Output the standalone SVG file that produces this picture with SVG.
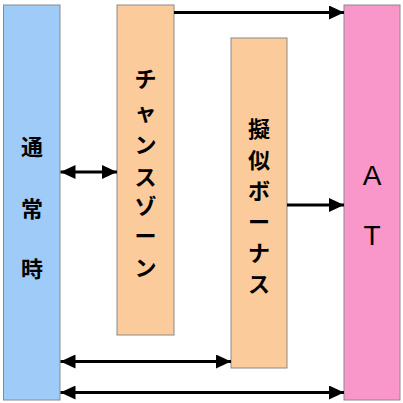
<svg xmlns="http://www.w3.org/2000/svg" width="403" height="403" viewBox="0 0 403 403">
<defs>
<marker id="ah" markerUnits="userSpaceOnUse" markerWidth="15" markerHeight="14" refX="15" refY="7" orient="auto-start-reverse">
<path d="M0,0 L15,7 L0,14 z" fill="#000"/>
</marker>
<style>
.box{stroke:#8a8a8a;stroke-width:1}
.blue{fill:#9ECBF7}
.orange{fill:#FCCB9B}
.pink{fill:#F996CA}
.jp{font-family:"Noto Sans CJK JP","Noto Sans",sans-serif;font-size:22px;fill:#000;text-anchor:middle;dominant-baseline:central}
.b{font-weight:bold}
.m{font-weight:bold}
.lat{font-family:"Liberation Sans",Arial,sans-serif;font-size:28px;fill:#000;text-anchor:middle}
.con{stroke:#000;stroke-width:3;fill:none}
</style>
</defs>
<rect width="403" height="403" fill="#fff"/>
<g id="normal">
<rect class="box blue" x="3.5" y="5" width="56.5" height="395"/>
<text class="jp b" x="32" y="145">通</text>
<text class="jp b" x="32" y="207">常</text>
<text class="jp b" x="32" y="267">時</text>
</g>
<g id="chance">
<rect class="box orange" x="117" y="5" width="57" height="330"/>
<text class="jp m" x="145.5" y="77">チ</text>
<text class="jp m" x="145.5" y="110">ャ</text>
<text class="jp m" x="145.5" y="143">ン</text>
<text class="jp m" x="145.5" y="175">ス</text>
<text class="jp m" x="145.5" y="204">ゾ</text>
<text class="jp m" x="145.5" y="234">ー</text>
<text class="jp m" x="145.5" y="266">ン</text>
</g>
<g id="bonus">
<rect class="box orange" x="231" y="38" width="56" height="330"/>
<text class="jp b" x="259" y="127">擬</text>
<text class="jp b" x="259" y="158">似</text>
<text class="jp b" x="259" y="189">ボ</text>
<text class="jp b" x="259" y="220">ー</text>
<text class="jp b" x="259" y="251">ナ</text>
<text class="jp b" x="259" y="282">ス</text>
</g>
<g id="at">
<rect class="box pink" x="344" y="5" width="56" height="395"/>
<text class="lat" x="372" y="185">A</text>
<text class="lat" x="372" y="245">T</text>
</g>
<g id="connectors">
<path class="con" d="M174,12.5 H344" marker-end="url(#ah)"/>
<path class="con" d="M60.5,172 H117" marker-start="url(#ah)" marker-end="url(#ah)"/>
<path class="con" d="M287,205 H344" marker-end="url(#ah)"/>
<path class="con" d="M60.5,361.5 H231" marker-start="url(#ah)" marker-end="url(#ah)"/>
<path class="con" d="M60.5,392.5 H344" marker-start="url(#ah)" marker-end="url(#ah)"/>
</g>
</svg>
